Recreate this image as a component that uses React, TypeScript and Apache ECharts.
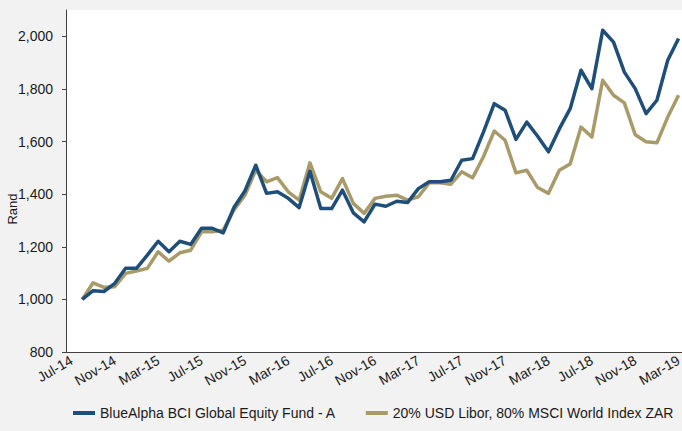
import React, { useEffect, useRef } from "react";
import * as echarts from "echarts";

const months: string[] = [
  "Jul-14","Aug-14","Sep-14","Oct-14","Nov-14","Dec-14",
  "Jan-15","Feb-15","Mar-15","Apr-15","May-15","Jun-15","Jul-15","Aug-15","Sep-15","Oct-15","Nov-15","Dec-15",
  "Jan-16","Feb-16","Mar-16","Apr-16","May-16","Jun-16","Jul-16","Aug-16","Sep-16","Oct-16","Nov-16","Dec-16",
  "Jan-17","Feb-17","Mar-17","Apr-17","May-17","Jun-17","Jul-17","Aug-17","Sep-17","Oct-17","Nov-17","Dec-17",
  "Jan-18","Feb-18","Mar-18","Apr-18","May-18","Jun-18","Jul-18","Aug-18","Sep-18","Oct-18","Nov-18","Dec-18",
  "Jan-19","Feb-19","Mar-19",
];

// Series start at Aug-14
const seriesStart = "Aug-14";

const fundName = "BlueAlpha BCI Global Equity Fund - A";
const fundValues: number[] = [
  1000, 1033, 1030, 1061, 1118,
  1118, 1168, 1221, 1181, 1221, 1209, 1270, 1270, 1253, 1350, 1412, 1510,
  1403, 1409, 1384, 1349, 1487, 1345, 1345, 1415, 1329, 1295, 1362, 1354,
  1373, 1368, 1421, 1447, 1447, 1453, 1529, 1535, 1636, 1744, 1719, 1608,
  1674, 1620, 1561, 1648, 1725, 1871, 1801, 2023, 1978, 1864, 1801, 1706,
  1757, 1909, 1992,
];

const benchName = "20% USD Libor, 80% MSCI World Index ZAR";
const benchValues: number[] = [
  1000, 1063, 1046, 1048, 1099,
  1108, 1118, 1181, 1145, 1177, 1187, 1257, 1257, 1263, 1340, 1396, 1491,
  1447, 1463, 1409, 1377, 1519, 1409, 1384, 1459, 1365, 1327, 1384, 1392,
  1396, 1377, 1390, 1443, 1443, 1438, 1485, 1462, 1542, 1640, 1605, 1481,
  1491, 1425, 1403, 1491, 1515, 1655, 1617, 1833, 1776, 1747, 1626, 1599,
  1595, 1693, 1776,
];

const yTicks: number[] = [800, 1000, 1200, 1400, 1600, 1800, 2000];

const FONT = "'Liberation Sans', Arial, sans-serif";

function pairs(values: number[]): [string, number][] {
  const start = months.indexOf(seriesStart);
  return values.map((v, i) => [months[start + i], v]);
}

export default function App() {
  const ref = useRef<HTMLDivElement>(null);
  useEffect(() => {
    if (!ref.current) return;
    const chart = echarts.init(ref.current, null, { renderer: "svg" });
    chart.setOption({
      animation: false,
      backgroundColor: "#f2f2f2",
      textStyle: { fontFamily: FONT },
      grid: {
        left: 66,
        right: -2,
        top: 10,
        bottom: 79,
        show: true,
        backgroundColor: "#ffffff",
        borderWidth: 0,
        containLabel: false,
        outerBoundsMode: "none",
      },
      legend: {
        bottom: 6,
        left: 68,
        icon: "rect",
        itemWidth: 22,
        itemHeight: 4,
        itemGap: 30,
        textStyle: { fontSize: 14, color: "#1a1a1a", fontFamily: FONT },
        data: [fundName, benchName],
      },
      graphic: [
        {
          type: "text",
          x: 12,
          y: 209,
          rotation: Math.PI / 2,
          style: {
            text: "Rand",
            fontSize: 13,
            fontFamily: FONT,
            fill: "#1a1a1a",
            align: "center",
            verticalAlign: "middle",
          },
        },
      ],
      xAxis: {
        type: "category",
        data: months,
        boundaryGap: true,
        axisLine: { lineStyle: { color: "#404040", width: 1 } },
        axisTick: { interval: 3, length: 4, lineStyle: { color: "#404040" } },
        axisLabel: {
          interval: 3,
          rotate: 30,
          margin: 7,
          fontSize: 14,
          color: "#1a1a1a",
          fontFamily: FONT,
        },
        splitLine: { show: false },
      },
      yAxis: {
        type: "value",
        min: 800,
        max: 2100,
        interval: 200,
        axisLine: { show: true, lineStyle: { color: "#404040", width: 1 } },
        axisTick: { show: true, length: 4, customValues: yTicks, lineStyle: { color: "#404040" } },
        axisLabel: {
          customValues: yTicks,
          margin: 13,
          fontSize: 14,
          color: "#1a1a1a",
          fontFamily: FONT,
          formatter: (v: number) => v.toLocaleString("en-US"),
        },
        splitLine: { show: false },
      },
      series: [
        {
          name: fundName,
          type: "line",
          data: pairs(fundValues),
          symbol: "none",
          color: "#1f4e79",
          lineStyle: { width: 3.5, color: "#1f4e79", join: "round" },
          z: 3,
        },
        {
          name: benchName,
          type: "line",
          data: pairs(benchValues),
          symbol: "none",
          color: "#a99a69",
          lineStyle: { width: 3.5, color: "#a99a69", join: "round" },
          z: 2,
        },
      ],
    });
    return () => chart.dispose();
  }, []);
  return (
    <div
      ref={ref}
      style={{ position: "fixed", left: 0, top: 0, width: 682, height: 431 }}
    />
  );
}
